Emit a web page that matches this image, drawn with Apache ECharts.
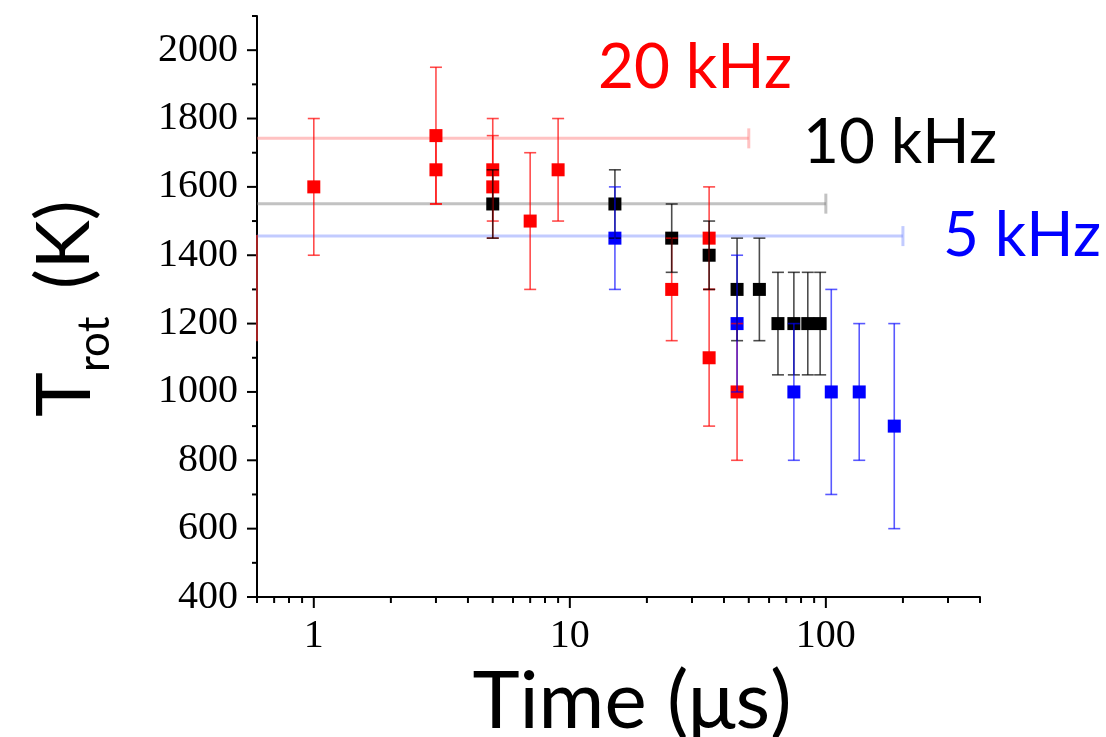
<!DOCTYPE html>
<html>
<head>
<meta charset="utf-8">
<script src="https://cdn.jsdelivr.net/npm/echarts@6/dist/echarts.min.js"></script>
<style>
html,body{margin:0;padding:0;background:#fff;}
#main{width:1106px;height:737px;}
</style>
</head>
<body>
<div id="main"></div>
<script>
// ---- data (time in µs, T_rot in K, symmetric error in K) ----
const redX   = [1, 3, 3, 5, 5, 7, 9, 25, 35, 35, 45];
const redY   = [1600, 1750, 1650, 1650, 1600, 1500, 1650, 1300, 1450, 1100, 1000];
const redErr = [200, 200, 100, 150, 150, 200, 150, 150, 150, 200, 200];

const blackX   = [5, 15, 25, 35, 45, 55, 65, 75, 85, 95];
const blackY   = [1550, 1550, 1450, 1400, 1300, 1300, 1200, 1200, 1200, 1200];
const blackErr = [100, 100, 100, 100, 150, 150, 150, 150, 150, 150];

const blueX   = [15, 45, 75, 105, 135, 185];
const blueY   = [1450, 1200, 1000, 1000, 1000, 900];
const blueErr = [150, 200, 200, 300, 200, 300];

// mean lines: [xStart, xEnd, y]
const meanRed   = [0.6, 50, 1742];
const meanBlack = [0.6, 100, 1551];
const meanBlue  = [0.6, 200, 1456];
// partly clipped red error bar at the left edge: [x, low, high]
const edgeRed = [0.6, 1148, 1459];

// axis ticks / labels
const xMin = 0.6, xMax = 400, yMin = 400, yMax = 2100;
const xMajorTicks = [1, 10, 100];
const xMinorTicks = [0.6, 0.7, 0.8, 0.9, 2, 3, 4, 5, 6, 7, 8, 9, 20, 30, 40, 50, 60, 70, 80, 90, 200, 300, 400];
const xTickLabels = ['1', '10', '100'];
const yMajorTicks = [400, 600, 800, 1000, 1200, 1400, 1600, 1800, 2000];
const yMinorTicks = [500, 700, 900, 1100, 1300, 1500, 1700, 1900, 2100];

// ---- helpers ----
function errData(xs, ys, es) { return xs.map((x, i) => [x, ys[i], es[i]]); }
function ptData(xs, ys) { return xs.map((x, i) => [x, ys[i]]); }

function errSeries(name, data, color) {
  return {
    name: name, type: 'custom', coordinateSystem: 'cartesian2d', z: 4, silent: true,
    data: data,
    renderItem: function (params, api) {
      const x = api.value(0), y = api.value(1), e = api.value(2);
      const hi = api.coord([x, y + e]);
      const lo = api.coord([x, y - e]);
      const w = 6;
      const st = { stroke: color, lineWidth: 1.6 };
      return { type: 'group', children: [
        { type: 'line', shape: { x1: hi[0], y1: hi[1], x2: lo[0], y2: lo[1] }, style: st },
        { type: 'line', shape: { x1: hi[0] - w, y1: hi[1], x2: hi[0] + w, y2: hi[1] }, style: st },
        { type: 'line', shape: { x1: lo[0] - w, y1: lo[1], x2: lo[0] + w, y2: lo[1] }, style: st }
      ]};
    }
  };
}

function meanSeries(m, color) {
  return {
    type: 'custom', coordinateSystem: 'cartesian2d', z: 1, silent: true,
    data: [m],
    renderItem: function (params, api) {
      const a = api.coord([api.value(0), api.value(2)]);
      const b = api.coord([api.value(1), api.value(2)]);
      const st = { stroke: color, lineWidth: 3 };
      return { type: 'group', children: [
        { type: 'line', shape: { x1: a[0], y1: a[1], x2: b[0], y2: b[1] }, style: st },
        { type: 'line', shape: { x1: b[0], y1: b[1] - 10, x2: b[0], y2: b[1] + 10 }, style: st }
      ]};
    }
  };
}

function markerSeries(name, data, color) {
  return {
    name: name, type: 'scatter', z: 3, symbol: 'rect', symbolSize: 13,
    itemStyle: { color: color, opacity: 1 }, data: data, silent: true
  };
}

function xTickSeries(ticks, len) {
  return {
    type: 'custom', coordinateSystem: 'cartesian2d', z: 6, clip: false, silent: true,
    data: ticks.map(t => [t, yMin]),
    renderItem: function (params, api) {
      const p = api.coord([api.value(0), api.value(1)]);
      return { type: 'line', shape: { x1: p[0], y1: p[1], x2: p[0], y2: p[1] + len },
               style: { stroke: '#000', lineWidth: 2 } };
    }
  };
}
function yTickSeries(ticks, len) {
  return {
    type: 'custom', coordinateSystem: 'cartesian2d', z: 6, clip: false, silent: true,
    data: ticks.map(t => [xMin, t]),
    renderItem: function (params, api) {
      const p = api.coord([api.value(0), api.value(1)]);
      return { type: 'line', shape: { x1: p[0], y1: p[1], x2: p[0] - len, y2: p[1] },
               style: { stroke: '#000', lineWidth: 2 } };
    }
  };
}

const chart = echarts.init(document.getElementById('main'), null, { renderer: 'canvas' });

const option = {
  animation: false,
  backgroundColor: '#ffffff',
  grid: { left: 257, right: 126, top: 16, bottom: 140, containLabel: false },
  xAxis: {
    type: 'log', logBase: 10, min: xMin, max: xMax,
    axisLine: { show: true, onZero: false, lineStyle: { color: '#000', width: 2 } },
    axisTick: { show: false }, minorTick: { show: false },
    splitLine: { show: false }, minorSplitLine: { show: false },
    axisLabel: {
      color: '#000', fontFamily: 'Liberation Serif', fontSize: 40, margin: 19,
      showMinLabel: false, showMaxLabel: false,
      formatter: function (v) {
        for (let i = 0; i < xMajorTicks.length; i++) {
          if (Math.abs(v - xMajorTicks[i]) < 1e-6 * xMajorTicks[i]) return xTickLabels[i];
        }
        return '';
      }
    }
  },
  yAxis: {
    type: 'value', min: yMin, max: yMax, interval: 200,
    axisLine: { show: true, onZero: false, lineStyle: { color: '#000', width: 2 } },
    axisTick: { show: false }, splitLine: { show: false },
    axisLabel: {
      color: '#000', fontFamily: 'Liberation Serif', fontSize: 40, margin: 19,
      formatter: function (v) { return yMajorTicks.indexOf(v) >= 0 ? String(v) : ''; }
    }
  },
  series: [
    meanSeries(meanRed, 'rgba(255,120,120,0.45)'),
    meanSeries(meanBlack, 'rgba(120,120,120,0.45)'),
    meanSeries(meanBlue, 'rgba(120,140,255,0.45)'),
    markerSeries('20 kHz', ptData(redX, redY), '#ff0000'),
    markerSeries('10 kHz', ptData(blackX, blackY), '#000000'),
    markerSeries('5 kHz', ptData(blueX, blueY), '#0000ff'),
    errSeries('20 kHz err', errData(redX, redY, redErr), 'rgba(255,0,0,0.7)'),
    errSeries('10 kHz err', errData(blackX, blackY, blackErr), 'rgba(0,0,0,0.7)'),
    errSeries('5 kHz err', errData(blueX, blueY, blueErr), 'rgba(0,0,255,0.65)'),
    {
      type: 'custom', coordinateSystem: 'cartesian2d', z: 7, clip: false, silent: true,
      data: [edgeRed],
      renderItem: function (params, api) {
        const a = api.coord([api.value(0), api.value(1)]);
        const b = api.coord([api.value(0), api.value(2)]);
        return { type: 'line', shape: { x1: a[0], y1: a[1], x2: b[0], y2: b[1] },
                 style: { stroke: 'rgba(190,40,40,0.85)', lineWidth: 2 } };
      }
    },
    xTickSeries(xMajorTicks, 11),
    xTickSeries(xMinorTicks, 6),
    yTickSeries(yMajorTicks, 10),
    yTickSeries(yMinorTicks, 5)
  ],
  graphic: [
    { type: 'text', x: 598, y: 68, silent: true,
      style: { text: '20 kHz', fill: '#ff0000', font: '62px Lato', align: 'left', verticalAlign: 'middle', textAlign: 'left', textVerticalAlign: 'middle' } },
    { type: 'text', x: 803, y: 143, silent: true,
      style: { text: '10 kHz', fill: '#000000', font: '62px Lato', align: 'left', verticalAlign: 'middle', textAlign: 'left', textVerticalAlign: 'middle' } },
    { type: 'text', x: 943, y: 236, silent: true,
      style: { text: '5 kHz', fill: '#0000ff', font: '62px Lato', align: 'left', verticalAlign: 'middle', textAlign: 'left', textVerticalAlign: 'middle' } },
    { type: 'text', x: 632, y: 702, silent: true,
      style: { text: 'Time (μs)', fill: '#000', font: '80px Lato', align: 'center', verticalAlign: 'middle', textAlign: 'center', textVerticalAlign: 'middle' } },
    { type: 'group', x: 65, y: 417, rotation: Math.PI / 2, silent: true,
      children: [
        { type: 'text', x: 0, y: 0,
          style: { text: 'T', fill: '#000', font: '76px Lato', align: 'left', verticalAlign: 'middle', textAlign: 'left', textVerticalAlign: 'middle' } },
        { type: 'text', x: 45, y: 30,
          style: { text: 'rot', fill: '#000', font: '44px Lato', align: 'left', verticalAlign: 'middle', textAlign: 'left', textVerticalAlign: 'middle' } },
        { type: 'text', x: 128, y: 0,
          style: { text: '(K)', fill: '#000', font: '74px Lato', align: 'left', verticalAlign: 'middle', textAlign: 'left', textVerticalAlign: 'middle' } }
      ]
    }
  ]
};
chart.setOption(option);
</script>
</body>
</html>
